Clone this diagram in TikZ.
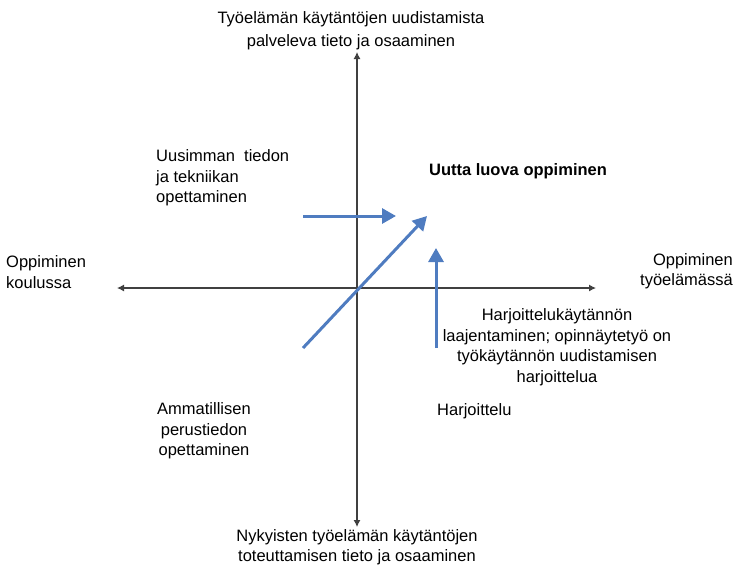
\documentclass[tikz,border=0pt]{standalone}
\usepackage{fontspec}
\setmainfont{Liberation Sans}
\usetikzlibrary{arrows.meta,positioning}
\definecolor{shiftblue}{RGB}{79,124,192}

\begin{document}
\begin{tikzpicture}[x=1pt,y=-1pt,>=Latex,
axis line/.style={draw=black!75,line width=1.1pt,{Latex[length=7pt,width=7pt]}-{Latex[length=7pt,width=7pt]}},
shift arrow/.style={draw=shiftblue,line width=3pt,-{Triangle[length=14pt,width=15pt]}},
quad text/.style={inner sep=0pt,align=center,font=\fontsize{16.5}{20.5}\selectfont}]
\useasboundingbox (0,0) rectangle (735,566);
% axes
\coordinate (ytop) at (357,52);
\coordinate (ybot) at (357,527);
\coordinate (xleft) at (117,288);
\coordinate (xright) at (596,288);
\draw[axis line] (ybot) -- (ytop);
\draw[axis line] (xleft) -- (xright);
% axis labels
\node[quad text,font=\fontsize{16.5}{23}\selectfont] (topl) at (351,31) {Työelämän käytäntöjen uudistamista\\palveleva tieto ja osaaminen};
\node[quad text] (botl) at (357,547) {Nykyisten työelämän käytäntöjen\\toteuttamisen tieto ja osaaminen};
\node[quad text,anchor=west,align=left] (leftl) at (6,272) {Oppiminen\\koulussa};
\node[quad text,anchor=east,align=right] (rightl) at (733,271) {Oppiminen\\työelämässä};
% quadrant labels
\node[quad text,anchor=west,align=left] (newest) at (156,178) {Uusimman\ \ tiedon\\ja tekniikan\\opettaminen};
\node[quad text,font=\fontsize{16.5}{20.5}\selectfont\bfseries] (creative) at (518,171) {Uutta luova oppiminen};
\node[quad text] (widen) at (557,347) {Harjoittelukäytännön\\laajentaminen; opinnäytetyö on\\työkäytännön uudistamisen\\harjoittelua};
\node[quad text] (basic) at (204,431) {Ammatillisen\\perustiedon\\opettaminen};
\node[quad text,anchor=west] (practice) at (437,411) {Harjoittelu};
% shifts
\coordinate (s1a) at (303,216);
\coordinate (s1b) at (396,216);
\coordinate (s2a) at (303,348);
\coordinate (s2b) at (427,216);
\coordinate (s3a) at (436,348);
\coordinate (s3b) at (436,248);
\draw[shift arrow] (s1a) -- (s1b);
\draw[shift arrow] (s2a) -- (s2b);
\draw[shift arrow] (s3a) -- (s3b);
\end{tikzpicture}
\end{document}
